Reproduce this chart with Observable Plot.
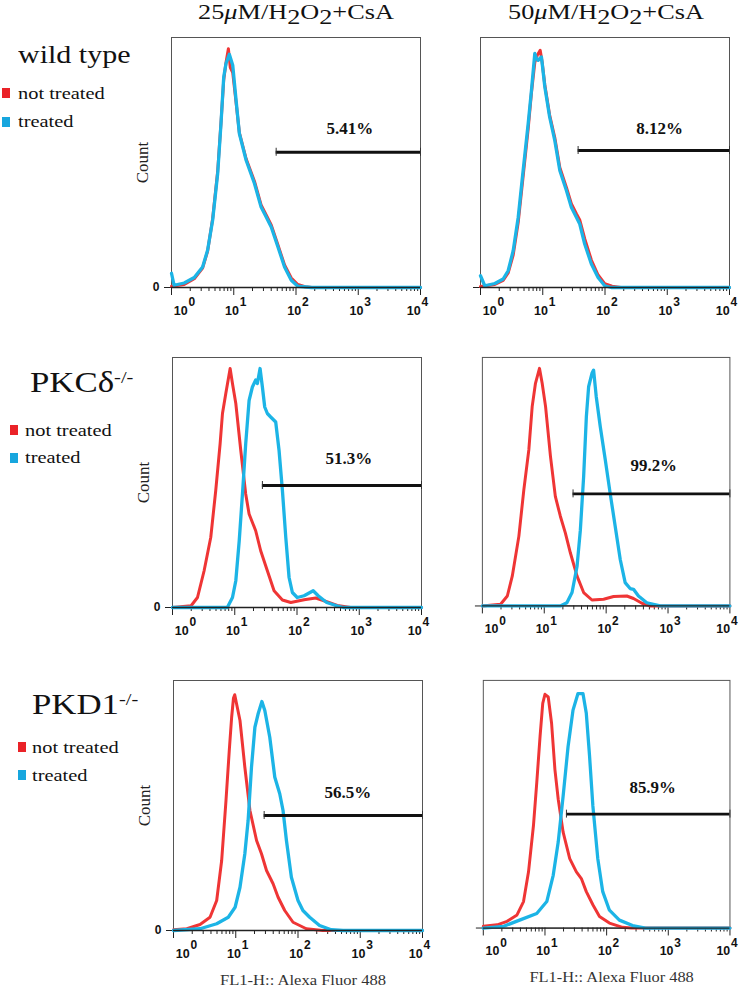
<!DOCTYPE html>
<html>
<head>
<meta charset="utf-8">
<script src="https://cdn.jsdelivr.net/npm/d3@7"></script>
<script src="https://cdn.jsdelivr.net/npm/@observablehq/plot@0.6"></script>
<style>
  body { margin: 0; background: #fff; }
  #chart { position: relative; width: 745px; height: 986px; overflow: hidden; background: #fff;
           font-family: "Liberation Serif", "Times New Roman", serif; color: #111; }
  .t { position: absolute; white-space: nowrap; line-height: 1; font-family: "Liberation Serif", "Times New Roman", serif; }
  .sq { position: absolute; width: 8px; height: 10px; }
  .sub { position: relative; top: 5px; }
  .sup { position: relative; top: -9px; font-size: 17px; }
  .panel { position: absolute; }
</style>
</head>
<body>
<div id="chart"></div>
<script>
// ---------- DATA ----------
const concentrations = ["25", "50"];
const rowLabels = ["wild type", "PKC\u03b4", "PKD1"];
const rowSuperscripts = ["", "-/-", "-/-"];
const seriesNames = ["not treated", "treated"];
const xAxisTitle = "FL1-H:: Alexa Fluor 488";
const yAxisTitle = "Count";
const xTickValues = [1, 10, 100, 1000, 10000];
const xTickExponents = ["0", "1", "2", "3", "4"];
const minorTicks = [2,3,4,5,6,7,8,9, 20,30,40,50,60,70,80,90, 200,300,400,500,600,700,800,900, 2000,3000,4000,5000,6000,7000,8000,9000];

// [fluorescence, count (% of axis max)]
const wt25_notTreated = [[1,0.5],[1.6,1.2],[2.32,3.5],[3.16,7.8],[3.8,14.5],[4.58,27.5],[5.52,46.5],[6.24,66],[6.9,83],[7.51,90],[8.2,95.5],[8.8,88],[9.63,86],[10.9,74],[12.3,62],[15.8,51.5],[21.5,42.5],[27.5,33],[33.2,29],[40,25],[51.3,17],[65.5,9],[84,3.8],[107,1.2],[140,0.3],[180,0],[10000,0]];
const wt25_treated = [[1,5.7],[1.1,0.9],[1.6,1.8],[2.32,4.0],[3.16,8.2],[3.8,14.9],[4.58,26.9],[5.52,45.6],[6.24,65.6],[6.9,84.2],[7.51,89.6],[8.49,93.3],[9.63,88.9],[10.9,74.9],[12.3,61.6],[15.8,50.9],[21.5,41.6],[27.5,32.2],[33.2,28.2],[40,24.2],[51.3,16.2],[65.5,8.2],[84,2.9],[107,0.5],[177,0],[10000,0]];
const wt50_notTreated = [[1,0.4],[1.7,1.2],[2.31,2.8],[2.78,5.8],[3.35,13],[4.03,26],[4.84,44.5],[5.83,63.5],[6.59,78],[7.45,90],[8.2,93],[9.1,94.9],[9.8,90],[10.8,81],[12.9,69],[15.6,60],[18.8,48],[24,40],[28.8,33.5],[34.7,29.5],[39.3,27],[47.2,19.5],[60.4,11],[77.4,5],[98.9,1.5],[130,0.5],[180,0],[10000,0]];
const wt50_treated = [[1,4.7],[1.17,0.7],[1.7,1.6],[2.31,3.4],[2.78,6.7],[3.35,14.7],[4.03,28],[4.84,46.8],[5.83,65.5],[6.59,78.9],[7.45,93.6],[7.94,91.6],[8.44,90.9],[9.53,92.2],[10.8,80.2],[12.9,68.2],[15.6,58.8],[18.8,46.8],[24,38.8],[28.8,32.1],[34.7,28.1],[39.3,25.4],[47.2,17.4],[60.4,9.4],[77.4,4],[98.9,0.7],[126,0],[10000,0]];
const pkc25_notTreated = [[1,0],[1.99,0.7],[2.52,4],[3.22,14.7],[4.12,28.1],[4.95,46.8],[5.82,65.5],[6.35,77.6],[7.18,85.6],[8.43,95.6],[9.19,89.6],[10.4,81.6],[12.5,62.8],[15,45.4],[17,37.4],[21.7,30.7],[26.1,22.7],[33.4,14.7],[42.8,6.7],[58.3,3],[79.5,2],[130,3.1],[200,3.8],[271,2.7],[444,0.8],[727,0],[10000,0]];
const pkc25_treated = [[1,0],[7.6,0],[9.19,4],[10.4,10.7],[11.8,26.7],[13.3,45.4],[15,65.5],[17,82.8],[19.2,88.2],[21.7,91],[23.1,89.6],[25.5,95.6],[27.8,88.2],[30.3,80.2],[33.4,77.6],[37.8,76.2],[45.5,74.2],[51.5,62.8],[58.3,46.8],[66,28.1],[74.6,12],[84.3,6],[101,4],[130,4.7],[182,6.7],[219,4.7],[300,2],[435,0.7],[560,0],[10000,0]];
const pkc50_notTreated = [[1,0],[1.97,0.7],[2.53,4],[3.04,12],[3.89,28.1],[4.68,46.8],[5.63,62.8],[6.38,80.2],[7.21,89.6],[8.37,95.6],[9.25,89.6],[10.5,80.2],[12.6,60.2],[15.1,44.1],[18.2,36.1],[21.9,29.4],[26.4,21.4],[33.9,12],[43.3,5.4],[59,2.4],[91,2.7],[132,3.8],[216,4],[277,3],[379,1.1],[513,0],[10000,0]];
const pkc50_treated = [[1,0],[18.2,0],[23.2,1.3],[28.1,5.4],[33.9,16],[38.3,30.5],[43.3,52.1],[47.9,76.2],[52.1,88.2],[59,93.6],[62.7,94.9],[69.2,84.2],[80.3,72.2],[96.8,58.8],[116,45.4],[140,32.1],[169,18.7],[203,9.4],[244,7],[277,6.7],[333,4],[454,1.3],[745,0],[10000,0]];
const pkd25_notTreated = [[1,0.3],[1.64,0.7],[2.67,2.4],[3.86,5.3],[4.94,12],[5.94,28],[6.97,52],[7.87,72],[8.59,85.3],[9.2,93],[9.63,94.3],[10.3,90.7],[11.7,84],[14,65.3],[16.9,48],[21.6,36],[25.9,30.7],[31.2,24],[39.8,18.7],[47.9,13.3],[61.2,8],[83.2,3.3],[136,0.7],[251,0],[10000,0]];
const pkd25_treated = [[1,0],[2.67,0.7],[4.94,2.7],[7.59,5.3],[9.77,9.3],[11.7,17.3],[14,30.7],[15.8,44],[17.9,65.3],[20.3,81.3],[22.9,86.7],[26.3,91.6],[29.3,88],[35.2,77.3],[42.4,61.3],[50.9,54.7],[57.5,48],[65.2,36],[78.3,21.3],[100,12],[120,8],[154,5.3],[222,2],[342,0.3],[530,0],[10000,0]];
const pkd50_notTreated = [[1,0.7],[1.68,1.3],[2.43,2.7],[3.52,5.3],[4.49,10.7],[5.41,22.7],[6.5,41.3],[7.36,58.7],[8.32,77.3],[9.2,90.7],[10,94.4],[11.3,93.3],[12.8,82.7],[14.5,64],[16.4,52],[19.7,38.7],[25.2,28],[32.3,22.7],[38.9,20],[46.8,14.7],[59.8,9.4],[76.6,4.7],[111,2],[181,0.3],[250,0],[10000,0]];
const pkd50_treated = [[1,0],[2.14,0.7],[3.97,3.3],[7.36,5.9],[10.7,10.7],[13.6,21.3],[16.4,34.7],[19.7,53.3],[23.7,73.3],[28.5,88],[34.3,94.7],[41.3,94.7],[46.8,86.7],[52.9,69.3],[59.8,49.3],[71.9,28],[86.5,14.7],[111,7.2],[161,3.2],[263,1],[427,0],[10000,0]];

// gates (order: wt25, wt50, pkc25, pkc50, pkd25, pkd50)
const gatePct = ["5.41%", "8.12%", "51.3%", "99.2%", "56.5%", "85.9%"];
const gateStart = [48, 37, 27.8, 29.2, 28.6, 22.3];
const gateEnd = [10000, 10000, 10000, 10000, 10000, 10000];
const gateLevel = [54.1, 54.8, 48.8, 45.1, 46, 46];
const gateLabelX = [733, 755, 684, 589, 631, 558];
const gateLabelY = [63.4, 63.6, 59.6, 56.3, 55.2, 56.8];

// ---------- LAYOUT ----------
const RED = "#ef3535", BLUE = "#1cb4e6";
const SQ_RED = "#ea2228", SQ_BLUE = "#17a6de";
const chart = document.getElementById("chart");

function addText(html, left, baseline, fs, opts = {}) {
  const d = document.createElement("div");
  d.className = "t";
  d.innerHTML = html;
  d.style.fontSize = fs + "px";
  d.style.top = (baseline - 0.8375 * fs) + "px";
  if (opts.center != null) {
    d.style.left = (opts.center - 200) + "px";
    d.style.width = "400px";
    d.style.textAlign = "center";
    d.style.transformOrigin = "center top";
  } else {
    d.style.left = left + "px";
    d.style.transformOrigin = "left top";
  }
  d.style.transform = `scaleX(${opts.sx ?? 1.2})`;
  chart.appendChild(d);
}
function addSquare(x, y, color) {
  const s = document.createElement("div");
  s.className = "sq"; s.style.left = x + "px"; s.style.top = y + "px"; s.style.background = color;
  chart.appendChild(s);
}

// column titles
const titleCenters = [296, 606];
concentrations.forEach((c, i) => {
  addText(`${c}<i>\u03bc</i>M/H<span class="sub">2</span>O<span class="sub">2</span>+CsA`, 0, 19.5, 21, {center: titleCenters[i], sx: 1.25});
});

// row labels + legends
const rowLabelPos = [[18, 63.3, 25], [30, 392.7, 29], [32, 714.3, 29]];
const legendPos = [ // squareX, textX, baseline1, baseline2, sqTop1, sqTop2
  [2.4, 17.6, 99.3, 127.7, 88.3, 117.3],
  [9.5, 24.8, 436, 463.3, 425, 453.3],
  [17.6, 31.9, 753.3, 781, 742, 770.3]
];
rowLabels.forEach((lab, r) => {
  const [x, b, fs] = rowLabelPos[r];
  const sup = rowSuperscripts[r] ? `<span class="sup">${rowSuperscripts[r]}</span>` : "";
  addText(lab + sup, x, b, fs, {sx: 1.2});
  const L = legendPos[r];
  addSquare(L[0], L[4], SQ_RED);
  addSquare(L[0], L[5], SQ_BLUE);
  addText(seriesNames[0], L[1], L[2], 17, {sx: 1.2});
  addText(seriesNames[1], L[1], L[3], 17, {sx: 1.2});
});

// panels
const panels = [
  {row: 0, col: 0, nt: wt25_notTreated, tr: wt25_treated, g: 0},
  {row: 0, col: 1, nt: wt50_notTreated, tr: wt50_treated, g: 1},
  {row: 1, col: 0, nt: pkc25_notTreated, tr: pkc25_treated, g: 2},
  {row: 1, col: 1, nt: pkc50_notTreated, tr: pkc50_treated, g: 3},
  {row: 2, col: 0, nt: pkd25_notTreated, tr: pkd25_treated, g: 4},
  {row: 2, col: 1, nt: pkd50_notTreated, tr: pkd50_treated, g: 5}
];
const frameLeft = [[171, 479.5], [172, 481.7], [173.3, 482.7]];
const frameTop = [37, 357.3, 680];
const FW = 249, FH = 250;
const fmt = d => "10^" + xTickExponents[xTickValues.indexOf(d)];
const SANS = '"Liberation Sans", Arial, sans-serif';
const SERIF = '"Liberation Serif", "Times New Roman", serif';

panels.forEach(p => {
  const left = p.col === 0;
  const mL = left ? 70 : 20, mT = 10, mR = 16, mB = p.row === 2 ? 66 : 40;
  const gi = p.g;
  const svg = Plot.plot({
    width: mL + FW + mR, height: mT + FH + mB,
    marginLeft: mL, marginRight: mR, marginTop: mT, marginBottom: mB,
    x: {type: "log", domain: [1, 10000]},
    y: {domain: [0, 100]},
    style: {background: "transparent", overflow: "visible", fontFamily: SANS, fontSize: "12px", color: "#111"},
    marks: [
      Plot.frame({stroke: "#555", strokeWidth: 1}),
      Plot.axisX({ticks: minorTicks, tickSize: 4, tickFormat: () => "", stroke: "#222",
        label: p.row === 2 ? xAxisTitle : null, labelAnchor: "center", labelOffset: 54, labelArrow: "none"}),
      Plot.axisX({ticks: xTickValues, tickSize: 8, tickFormat: () => "", stroke: "#222", label: null}),
      Plot.axisX({ticks: xTickValues.slice(0, 1), tickSize: 0, tickPadding: 18.5, tickFormat: fmt, dx: 13, label: null}),
      Plot.axisX({ticks: xTickValues.slice(1, 4), tickSize: 0, tickPadding: 18.5, tickFormat: fmt, dx: 2, label: null}),
      Plot.axisX({ticks: xTickValues.slice(4), tickSize: 0, tickPadding: 18.5, tickFormat: fmt, dx: -3, label: null}),
      Plot.axisY({ticks: [0], tickSize: 7, tickPadding: 5, stroke: "#222",
        tickFormat: left ? d => String(d) : () => "",
        label: left ? yAxisTitle : null, labelAnchor: "center", labelOffset: 36, labelArrow: "none"}),
      Plot.line(p.nt, {x: d => d[0], y: d => d[1], stroke: RED, strokeWidth: 3, strokeLinejoin: "round"}),
      Plot.line(p.tr, {x: d => d[0], y: d => d[1], stroke: BLUE, strokeWidth: 3.3, strokeLinejoin: "round"}),
      Plot.ruleY([0], {stroke: "#222", strokeWidth: 1.3}),
      Plot.ruleY([gi], {x1: i => gateStart[i], x2: i => gateEnd[i], y: i => gateLevel[i], stroke: "#111", strokeWidth: 3}),
      Plot.ruleX([gateStart[gi], gateEnd[gi]], {x: d => d, y1: () => gateLevel[gi] - 1.6, y2: () => gateLevel[gi] + 1.6, stroke: "#333", strokeWidth: 1}),
      Plot.text([gi], {x: i => gateLabelX[i], y: i => gateLabelY[i], text: i => gatePct[i],
        fontFamily: SERIF, fontWeight: "bold", fontSize: 17, fill: "#111", ariaLabel: "gate-label"})
    ]
  });
  // tick labels: bold sans, superscript exponents
  svg.querySelectorAll('g[aria-label="x-axis tick label"] text').forEach(t => {
    t.style.fontFamily = SANS; t.style.fontWeight = "bold"; t.style.fontSize = "12.5px"; t.style.fill = "#111";
    const s = t.textContent;
    if (!s.includes("^")) return;
    const [b, e] = s.split("^");
    t.textContent = b;
    const ts = document.createElementNS("http://www.w3.org/2000/svg", "tspan");
    ts.setAttribute("dy", "-8.7");
    ts.setAttribute("dx", "0.8");
    ts.style.fontSize = "12px";
    ts.textContent = e;
    t.appendChild(ts);
  });
  svg.querySelectorAll('g[aria-label="y-axis tick label"] text').forEach(t => {
    t.style.fontFamily = SANS; t.style.fontWeight = "bold"; t.style.fontSize = "12px"; t.style.fill = "#111";
  });
  svg.querySelectorAll('g[aria-label="y-axis label"] text').forEach(t => {
    t.style.fontFamily = SERIF; t.style.fontSize = "17px"; t.style.fill = "#222";
  });
  svg.querySelectorAll('g[aria-label="x-axis label"] text').forEach(t => {
    t.style.fontFamily = SERIF; t.style.fontSize = "14px"; t.style.fill = "#333";
    t.setAttribute("dx", "5");
    t.setAttribute("textLength", "166"); t.setAttribute("lengthAdjust", "spacingAndGlyphs");
  });
  svg.querySelectorAll('g[aria-label="gate-label"] text').forEach(t => {
    t.setAttribute("textLength", "54"); t.setAttribute("lengthAdjust", "spacingAndGlyphs");
  });
  const wrap = document.createElement("div");
  wrap.className = "panel";
  wrap.style.left = (frameLeft[p.row][p.col] - mL) + "px";
  wrap.style.top = (frameTop[p.row] - mT) + "px";
  wrap.appendChild(svg);
  chart.appendChild(wrap);
});
</script>
</body>
</html>
